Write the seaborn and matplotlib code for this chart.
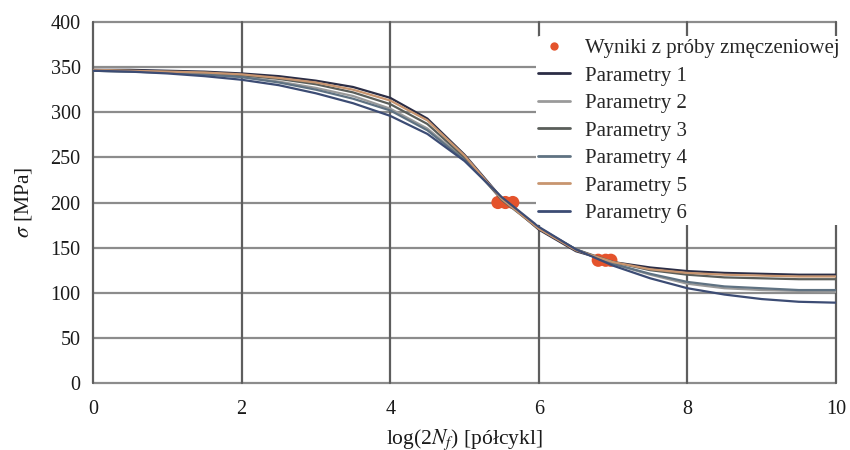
import numpy as np
import pandas as pd
import matplotlib
matplotlib.use("Agg")
import matplotlib.pyplot as plt
import seaborn as sns
from matplotlib.lines import Line2D

# ---- data ----
x_vals = [0, 0.5, 1, 1.5, 2, 2.5, 3, 3.5, 4, 4.5, 5, 5.5, 6, 6.5, 7, 7.5, 8, 8.5, 9, 9.5, 10]

param1 = [347, 347, 346, 345, 343, 340, 335, 328, 316, 293, 253, 205, 170, 146, 134, 128, 124, 122, 121, 120, 120]
param2 = [346, 345, 344, 342, 339, 334, 327, 318, 304, 282, 248, 205, 172, 148, 132, 120, 110, 105, 103, 102, 101]
param3 = [346, 346, 345, 344, 341, 337, 331, 322, 309, 287, 250, 203, 171, 148, 134, 125, 120, 117, 116, 115, 115]
param4 = [346, 345, 344, 342, 339, 333, 325, 315, 302, 280, 247, 205, 172, 148, 132, 121, 112, 107, 105, 103, 103]
param5 = [347, 346, 345, 344, 342, 338, 333, 325, 313, 291, 252, 204, 171, 147, 134, 126, 122, 120, 119, 118, 118]
param6 = [346, 345, 343, 340, 336, 330, 321, 310, 296, 276, 246, 206, 173, 148, 130, 116, 105, 98, 93, 90, 89]

test_x = [5.45, 5.55, 5.65, 6.8, 6.9, 6.97]
test_y = [200, 200, 200, 136, 136, 136]

series_names = ["Parametry 1", "Parametry 2", "Parametry 3", "Parametry 4", "Parametry 5", "Parametry 6"]
series_vals = [param1, param2, param3, param4, param5, param6]
colors = ["#2b2d45", "#9a9a9a", "#5a5e5a", "#5f7282", "#c8956f", "#3c4c74"]
points_label = "Wyniki z próby zmęczeniowej"

rows = []
for name, vals in zip(series_names, series_vals):
    for xv, yv in zip(x_vals, vals):
        rows.append({"x": xv, "y": yv, "series": name})
df = pd.DataFrame(rows)
pts = pd.DataFrame({"x": test_x, "y": test_y})

sns.set_theme(style="white")
plt.rcParams["font.family"] = ["Liberation Serif", "DejaVu Serif"]
plt.rcParams["mathtext.fontset"] = "stix"

fig = plt.figure(figsize=(8.5, 4.5), dpi=100)
ax = fig.add_axes([93/850, 1-383/450, (836-93)/850, (383-22)/450])

grid_h = "#8c8c8c"
grid_v = "#5e5e5e"
for yv in range(0, 401, 50):
    ax.axhline(yv, color=grid_h, lw=1.6, zorder=0, clip_on=False)
for xv in range(0, 11, 2):
    ax.axvline(xv, color=grid_v, lw=1.6, zorder=0, clip_on=False)

sns.scatterplot(data=pts, x="x", y="y", ax=ax, color="#e4532c", s=90,
                edgecolor="none", zorder=2, legend=False)
sns.lineplot(data=df, x="x", y="y", hue="series", palette=colors, ax=ax,
             lw=1.6, legend=False, zorder=3)

ax.set_xlim(0, 10)
ax.set_ylim(0, 400)
ax.set_xticks(range(0, 11, 2))
ax.set_yticks(range(0, 401, 50))
for s in ax.spines.values():
    s.set_visible(False)
ax.tick_params(axis="both", direction="out", length=6, width=1.4,
               colors=grid_h, labelcolor="#1a1a1a", labelsize=14.5)
ax.tick_params(axis="x", pad=6)
ax.tick_params(axis="y", pad=3)
ax.set_xlabel("log(2$N_f$) [półcykl]", fontsize=15.5, color="#1a1a1a", labelpad=6)
ax.set_ylabel("$\\sigma$ [MPa]", fontsize=15.5, color="#1a1a1a", labelpad=12)

handles = [Line2D([], [], marker="o", ls="none", color="#e4532c", markersize=6, markeredgewidth=0)]
handles += [Line2D([], [], color=c, lw=2) for c in colors]
labels = [points_label] + series_names
leg = ax.legend(handles, labels, loc="upper right", bbox_to_anchor=(1.008, 0.96),
                frameon=True, fontsize=15, labelspacing=0.38, handlelength=1.5,
                handletextpad=0.75, borderpad=0.1, borderaxespad=0.0)
leg.get_frame().set_edgecolor("none")
leg.get_frame().set_facecolor("white")
leg.get_frame().set_alpha(1.0)
leg.set_zorder(5)

fig.savefig("out.png", dpi=100)
